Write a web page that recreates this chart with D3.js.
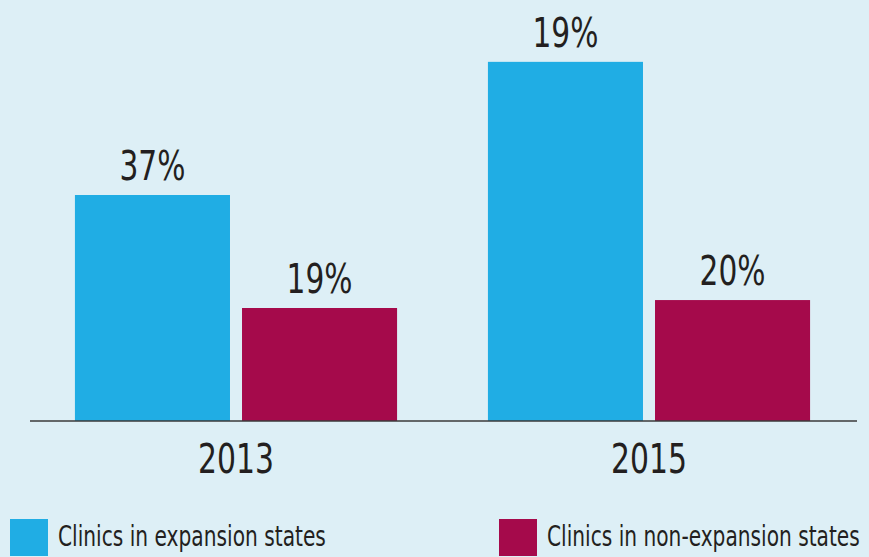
<!DOCTYPE html>
<html><head><meta charset="utf-8">
<script src="https://cdn.jsdelivr.net/npm/d3@7"></script>
<style>
html,body{margin:0;padding:0;background:#DDEFF6;}
svg{display:block;}
text{font-family:"Liberation Sans Narrow","DejaVu Sans Condensed","Roboto","Liberation Sans",sans-serif;font-stretch:condensed;fill:#231F20;}
</style></head>
<body>
<script>
const years = ["2013", "2015"];
const seriesNames = ["Clinics in expansion states", "Clinics in non-expansion states"];
const expansionValues = [37, 58.8];
const nonExpansionValues = [18.5, 19.8];
const expansionLabels = ["37%", "19%"];
const nonExpansionLabels = ["19%", "20%"];
const colors = ["#20ADE4", "#A50A4B"];

const W = 869, H = 557;
const svg = d3.select("body").append("svg").attr("width", W).attr("height", H);
svg.append("rect").attr("width", W).attr("height", H).attr("fill", "#DDEFF6");

const baseY = 421;
const y = d3.scaleLinear().domain([0, 60]).range([baseY, baseY - 60 * 6.108]);
const x0 = d3.scaleBand().domain(years).range([29.5, 855.5]).paddingInner(0.22).paddingOuter(0.11);
const x1 = d3.scaleBand().domain(seriesNames).range([0, x0.bandwidth()]).paddingInner(0.072).paddingOuter(0);

const rows = years.map((yr, i) => ({
  year: yr,
  bars: [
    {s: seriesNames[0], v: expansionValues[i], label: expansionLabels[i], c: colors[0]},
    {s: seriesNames[1], v: nonExpansionValues[i], label: nonExpansionLabels[i], c: colors[1]}
  ]
}));

const g = svg.selectAll("g.grp").data(rows).join("g").attr("class", "grp")
  .attr("transform", d => `translate(${x0(d.year)},0)`);

g.selectAll("rect").data(d => d.bars).join("rect")
  .attr("x", d => x1(d.s)).attr("width", x1.bandwidth())
  .attr("y", d => y(d.v)).attr("height", d => baseY - y(d.v))
  .attr("fill", d => d.c);

g.selectAll("text.val").data(d => d.bars).join("text").attr("class", "val")
  .attr("x", d => x1(d.s) + x1.bandwidth() / 2)
  .attr("y", d => y(d.v) - 15)
  .attr("text-anchor", "middle").attr("font-size", 41)
  .attr("textLength", 66).attr("lengthAdjust", "spacingAndGlyphs")
  .text(d => d.label);

// baseline axis
const xAxis = d3.axisBottom(x0).tickSize(0).tickPadding(0);
const ax = svg.append("g").attr("transform", `translate(0,${baseY})`).call(xAxis);
ax.select(".domain").attr("d", "M30,0H857").attr("stroke", "#3a3a3a").attr("stroke-width", 1.6);
ax.selectAll(".tick text")
  .attr("y", 52).attr("dy", 0)
  .attr("font-size", 41).attr("font-family", null)
  .attr("textLength", 76).attr("lengthAdjust", "spacingAndGlyphs")
  .style("fill", "#231F20");

// legend
const legendX = [10, 499];
const legendW = [268, 313];
const lg = svg.selectAll("g.leg").data(seriesNames).join("g").attr("class", "leg")
  .attr("transform", (d, i) => `translate(${legendX[i]},0)`);
lg.append("rect").attr("x", 0).attr("y", 519).attr("width", 38).attr("height", 37)
  .attr("fill", (d, i) => colors[i]);
lg.append("text")
  .attr("font-size", 29)
  .text(d => d)
  .each(function(d, i) {
    const nat = this.getComputedTextLength();
    const sx = legendW[i] / nat;
    d3.select(this).attr("transform", `translate(48,546) scale(${sx},1)`);
  });
</script>
</body></html>
